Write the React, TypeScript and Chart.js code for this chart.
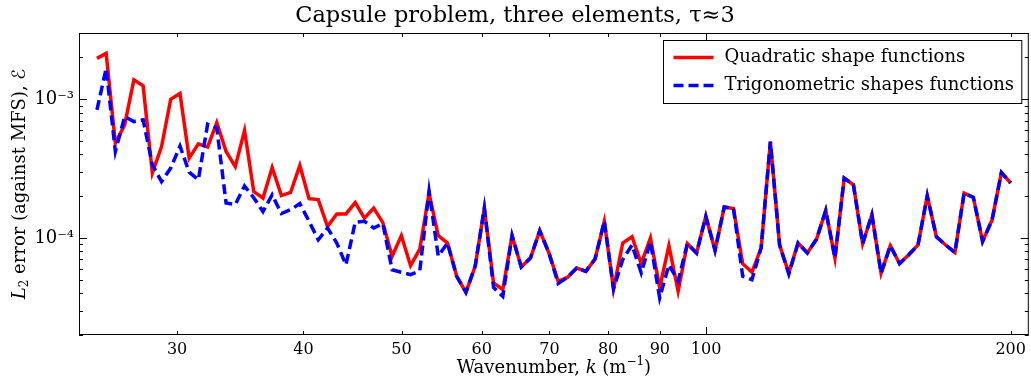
import React, { useEffect, useRef } from "react";
import { Chart, registerables } from "chart.js";

Chart.register(...registerables);

const wavenumbers = [
  25.0, 25.53, 26.07, 26.63, 27.19, 27.77, 28.36, 28.96, 29.57, 30.2,
  30.84, 31.49, 32.16, 32.84, 33.54, 34.25, 34.98, 35.72, 36.48, 37.25,
  38.04, 38.85, 39.67, 40.51, 41.37, 42.25, 43.15, 44.06, 45.0, 45.95,
  46.93, 47.92, 48.94, 49.98, 51.04, 52.12, 53.23, 54.36, 55.51, 56.69,
  57.89, 59.12, 60.37, 61.65, 62.96, 64.3, 65.66, 67.05, 68.48, 69.93,
  71.41, 72.93, 74.48, 76.06, 77.67, 79.32, 81.0, 82.72, 84.48, 86.27,
  88.1, 89.97, 91.88, 93.83, 95.82, 97.85, 99.93, 102.05, 104.21, 106.42,
  108.68, 110.99, 113.34, 115.75, 118.2, 120.71, 123.27, 125.89, 128.56, 131.29,
  134.07, 136.92, 139.82, 142.79, 145.82, 148.91, 152.07, 155.3, 158.59, 161.96,
  165.4, 168.9, 172.49, 176.15, 179.88, 183.7, 187.6, 191.7, 195.8, 200.0,
];

const quadraticErrors = [
  1.97e-3, 2.14e-3, 4.82e-4, 6.53e-4, 1.38e-3, 1.25e-3, 2.94e-4, 4.56e-4, 1.0e-3, 1.1e-3,
  3.76e-4, 4.77e-4, 4.52e-4, 6.79e-4, 4.2e-4, 3.27e-4, 5.94e-4, 2.16e-4, 1.94e-4, 3.22e-4,
  2.02e-4, 2.13e-4, 3.33e-4, 1.92e-4, 1.89e-4, 1.21e-4, 1.49e-4, 1.49e-4, 1.8e-4, 1.39e-4,
  1.64e-4, 1.29e-4, 7.38e-5, 1.04e-4, 6.32e-5, 8.3e-5, 2.1e-4, 1.04e-4, 9.2e-5, 5.3e-5,
  4.06e-5, 6.25e-5, 1.64e-4, 4.74e-5, 4.25e-5, 1.04e-4, 6.18e-5, 7.18e-5, 1.13e-4, 7.8e-5,
  4.87e-5, 5.2e-5, 6.08e-5, 5.75e-5, 7.06e-5, 1.32e-4, 4.3e-5, 9.2e-5, 1.02e-4, 6.53e-5,
  1.0e-4, 4.37e-5, 8.8e-5, 4.13e-5, 9.1e-5, 7.8e-5, 1.43e-4, 8.15e-5, 1.67e-4, 1.63e-4,
  6.53e-5, 5.66e-5, 8.5e-5, 4.95e-4, 8.9e-5, 5.6e-5, 9.2e-5, 7.8e-5, 9.8e-5, 1.58e-4,
  7.18e-5, 2.7e-4, 2.42e-4, 9.1e-5, 1.47e-4, 5.58e-5, 8.8e-5, 6.53e-5, 7.57e-5, 8.9e-5,
  2.01e-4, 1.02e-4, 8.9e-5, 7.87e-5, 2.11e-4, 1.96e-4, 9.45e-5, 1.35e-4, 2.96e-4, 2.49e-4,
];

const trigonometricErrors = [
  8.37e-4, 1.67e-3, 4.2e-4, 7.5e-4, 6.9e-4, 7.1e-4, 3.37e-4, 2.55e-4, 3.19e-4, 4.6e-4,
  2.98e-4, 2.63e-4, 6.6e-4, 6.2e-4, 1.79e-4, 1.74e-4, 2.37e-4, 1.95e-4, 1.55e-4, 2.05e-4,
  1.5e-4, 1.6e-4, 1.77e-4, 1.32e-4, 9.7e-5, 1.18e-4, 9.2e-5, 6.4e-5, 1.3e-4, 1.32e-4,
  1.18e-4, 1.27e-4, 5.9e-5, 5.66e-5, 5.45e-5, 5.8e-5, 2.18e-4, 7.4e-5, 9.2e-5, 5.3e-5,
  4.06e-5, 6.25e-5, 1.64e-4, 4.4e-5, 3.8e-5, 1.04e-4, 6.18e-5, 7.18e-5, 1.13e-4, 7.8e-5,
  4.7e-5, 5.2e-5, 6.08e-5, 5.75e-5, 7.06e-5, 1.32e-4, 4.3e-5, 7.0e-5, 8.9e-5, 5.6e-5,
  9.4e-5, 3.7e-5, 6.4e-5, 4.9e-5, 9.1e-5, 7.8e-5, 1.43e-4, 8.15e-5, 1.67e-4, 1.63e-4,
  5.3e-5, 5.0e-5, 8.5e-5, 4.95e-4, 8.9e-5, 5.5e-5, 9.2e-5, 7.8e-5, 9.8e-5, 1.58e-4,
  7.18e-5, 2.7e-4, 2.42e-4, 9.1e-5, 1.47e-4, 5.58e-5, 8.8e-5, 6.53e-5, 7.57e-5, 8.9e-5,
  2.01e-4, 1.02e-4, 8.9e-5, 7.87e-5, 2.11e-4, 1.96e-4, 9.45e-5, 1.35e-4, 2.96e-4, 2.49e-4,
];

const seriesLabels = ["Quadratic shape functions", "Trigonometric shapes functions"];
const xTickValues = [30, 40, 50, 60, 70, 80, 90, 100, 200];
const xTickLabels = ["30", "40", "50", "60", "70", "80", "90", "100", "200"];
const xMajorTickValues = [100];
const yTickValues = [1e-4, 1e-3];
const yTickLabels = ["10\u207B\u2074", "10\u207B\u00B3"];
const titleText = "Capsule problem, three elements, \u03C4\u22483";

const FONT = "'DejaVu Serif', serif";
const F18 = `18px ${FONT}`;
const F18I = `italic 18px ${FONT}`;
const F12 = `12px ${FONT}`;

type Seg = { text: string; font: string; dy?: number };

const xTitleSegs: Seg[] = [
  { text: "Wavenumber, ", font: F18 },
  { text: "k", font: F18I },
  { text: " (m", font: F18 },
  { text: "\u22121", font: F12, dy: -6 },
  { text: ")", font: F18 },
];
const yTitleSegs: Seg[] = [
  { text: "L", font: F18I },
  { text: "2", font: F12, dy: 5 },
  { text: " error (against MFS), ", font: F18 },
  { text: "\u2130", font: "18px 'DejaVu Sans', 'Noto Sans', sans-serif" },
];

function drawRich(ctx: CanvasRenderingContext2D, segs: Seg[], cx: number, cy: number, rot: number) {
  ctx.save();
  ctx.translate(cx, cy);
  ctx.rotate(rot);
  ctx.textBaseline = "middle";
  ctx.textAlign = "left";
  ctx.fillStyle = "#000";
  const widths = segs.map((s) => {
    ctx.font = s.font;
    return ctx.measureText(s.text).width;
  });
  let x = -widths.reduce((p, c) => p + c, 0) / 2;
  segs.forEach((s, i) => {
    ctx.font = s.font;
    ctx.fillText(s.text, x, s.dy || 0);
    x += widths[i];
  });
  ctx.restore();
}

const decorPlugin = {
  id: "decor",
  afterDatasetsDraw(chart: any) {
    const { ctx, chartArea: a, scales } = chart;
    const x = scales.x;
    const y = scales.y;
    ctx.save();
    ctx.strokeStyle = "#000";
    ctx.lineWidth = 1;
    ctx.strokeRect(a.left + 0.5, a.top + 0.5, a.right - a.left - 1, a.bottom - a.top - 1);
    ctx.beginPath();
    xTickValues.forEach((v) => {
      const len = xMajorTickValues.includes(v) ? 8 : 4;
      const px = Math.round(x.getPixelForValue(v)) + 0.5;
      ctx.moveTo(px, a.bottom);
      ctx.lineTo(px, a.bottom - len);
      ctx.moveTo(px, a.top);
      ctx.lineTo(px, a.top + len);
    });
    for (let d = -6; d <= -2; d++) {
      for (let m = 1; m <= 9; m++) {
        const v = m * Math.pow(10, d);
        if (v < y.min || v > y.max) continue;
        const len = m === 1 ? 8 : 4;
        const py = Math.round(y.getPixelForValue(v)) + 0.5;
        ctx.moveTo(a.left, py);
        ctx.lineTo(a.left + len, py);
        ctx.moveTo(a.right, py);
        ctx.lineTo(a.right - len, py);
      }
    }
    ctx.stroke();
    ctx.restore();
  },
  afterDraw(chart: any) {
    const { ctx, chartArea: a } = chart;
    drawRich(ctx, xTitleSegs, (a.left + a.right) / 2, 368, 0);
    drawRich(ctx, yTitleSegs, 20, (a.top + a.bottom) / 2, -Math.PI / 2);
    const bx = 663.5;
    const by = a.top + 7.5;
    const bw = a.right - 7 - bx;
    const bh = 63;
    ctx.save();
    ctx.fillStyle = "#fff";
    ctx.fillRect(bx, by, bw, bh);
    ctx.strokeStyle = "#000";
    ctx.lineWidth = 1;
    ctx.strokeRect(bx, by, bw, bh);
    chart.data.datasets.forEach((ds: any, i: number) => {
      const ly = by + 17 + i * 28;
      ctx.beginPath();
      ctx.strokeStyle = ds.borderColor;
      ctx.lineWidth = ds.borderWidth;
      ctx.setLineDash(ds.borderDash || []);
      ctx.moveTo(bx + 10, ly);
      ctx.lineTo(bx + 50, ly);
      ctx.stroke();
      ctx.setLineDash([]);
      ctx.fillStyle = "#000";
      ctx.font = F18;
      ctx.textBaseline = "middle";
      ctx.textAlign = "left";
      ctx.fillText(ds.label, bx + 61, ly);
    });
    ctx.restore();
  },
};

export default function App() {
  const canvasRef = useRef<HTMLCanvasElement | null>(null);

  useEffect(() => {
    document.body.style.margin = "0";
    const canvas = canvasRef.current;
    if (!canvas) return;
    const chart = new Chart(canvas, {
      type: "line",
      data: {
        datasets: [
          {
            label: seriesLabels[0],
            data: wavenumbers.map((k, i) => ({ x: k, y: quadraticErrors[i] })),
            borderColor: "#ff0000",
            backgroundColor: "#ff0000",
            borderWidth: 3.5,
            pointRadius: 0,
            tension: 0,
            fill: false,
            order: 1,
          },
          {
            label: seriesLabels[1],
            data: wavenumbers.map((k, i) => ({ x: k, y: trigonometricErrors[i] })),
            borderColor: "#0000ff",
            backgroundColor: "#0000ff",
            borderWidth: 3.5,
            borderDash: [10, 5],
            pointRadius: 0,
            tension: 0,
            fill: false,
            order: 0,
          },
        ],
      },
      options: {
        responsive: false,
        animation: false,
        devicePixelRatio: 1,
        layout: { padding: { left: 0, right: 1, top: 0, bottom: 0 } },
        plugins: {
          legend: { display: false },
          tooltip: { enabled: false },
          title: {
            display: true,
            text: titleText,
            color: "#000",
            font: { family: FONT, size: 22.5, weight: "normal", lineHeight: 1.2 },
            padding: { top: 3, bottom: 3 },
          },
        },
        scales: {
          x: {
            type: "logarithmic",
            min: 24,
            max: 208.4,
            grid: { display: false, drawTicks: false },
            border: { display: false },
            afterBuildTicks: (s: any) => {
              s.ticks = xTickValues.map((v) => ({ value: v }));
            },
            afterFit: (s: any) => {
              s.height = 46;
            },
            ticks: {
              autoSkip: false,
              maxRotation: 0,
              padding: 5,
              color: "#000",
              font: { family: FONT, size: 16 },
              callback: (v: any) => xTickLabels[xTickValues.indexOf(Number(v))] ?? "",
            },
            title: { display: false },
          },
          y: {
            type: "logarithmic",
            min: 2e-5,
            max: 3e-3,
            grid: { display: false, drawTicks: false },
            border: { display: false },
            afterBuildTicks: (s: any) => {
              s.ticks = yTickValues.map((v) => ({ value: v }));
            },
            afterFit: (s: any) => {
              s.width = 79;
            },
            ticks: {
              padding: 5,
              color: "#000",
              font: { family: FONT, size: 18 },
              callback: (v: any) => {
                const idx = yTickValues.findIndex((t) => Math.abs(t - Number(v)) / t < 1e-6);
                return idx >= 0 ? yTickLabels[idx] : "";
              },
            },
            title: { display: false },
          },
        },
      },
      plugins: [decorPlugin],
    });
    return () => chart.destroy();
  }, []);

  return (
    <div style={{ width: 1031, height: 381 }}>
      <canvas ref={canvasRef} width={1031} height={381} style={{ display: "block" }} />
    </div>
  );
}
